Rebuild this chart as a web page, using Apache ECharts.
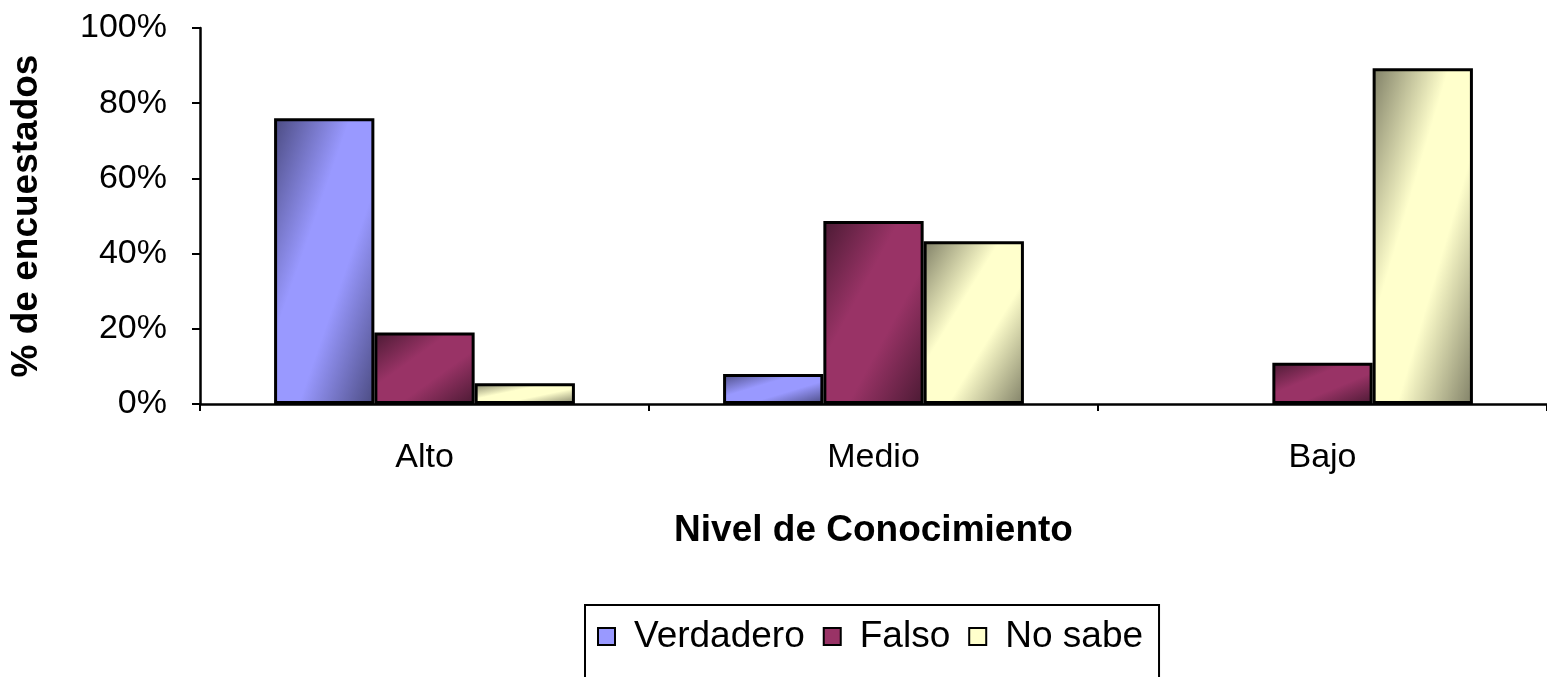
<!DOCTYPE html>
<html>
<head>
<meta charset="utf-8">
<script src="https://cdn.jsdelivr.net/npm/echarts@6/dist/echarts.min.js"></script>
<style>
  html, body { margin: 0; padding: 0; background: #fff; }
  #chart { width: 1547px; height: 677px; }
</style>
</head>
<body>
<div id="chart"></div>
<script>
const categories = ['Alto', 'Medio', 'Bajo']
const verdadero = [76, 8, 0]
const falso = [19, 48.7, 11]
const noSabe = [5.5, 43.3, 89.3]

// light / dark pairs for the shaded bars
const shades = {
  'Verdadero': ['#9999ff', '#4a4a80'],
  'Falso': ['#993366', '#4a1a33'],
  'No sabe': ['#ffffcc', '#7f7f66']
}

const plotH = 376
const barW = 100

// diagonal shading: light band runs from top-right to bottom-left corner
function shade(name, v) {
  const [light, dark] = shades[name]
  const h = Math.max(v / 100 * plotH, 1)
  const d = h * h + barW * barW
  return new echarts.graphic.LinearGradient(0, 0, 2 * h * h / d, 2 * barW * barW / d, [
    { offset: 0, color: dark },
    { offset: 0.38, color: light },
    { offset: 0.62, color: light },
    { offset: 1, color: dark }
  ])
}

function barSeries(name, data) {
  return {
    name: name,
    type: 'bar',
    data: data.map(v => ({
      value: v,
      itemStyle: { color: shade(name, v), borderWidth: v > 0 ? 3 : 0 }
    })),
    barGap: '0%',
    barCategoryGap: '33%',
    itemStyle: { borderColor: '#000', borderWidth: 3 },
    animation: false
  }
}

const chart = echarts.init(document.getElementById('chart'))

chart.setOption({
  textStyle: { fontFamily: 'Liberation Sans, Arial, sans-serif', color: '#000' },
  grid: { left: 200, right: 0, top: 28, bottom: 273, containLabel: false, outerBoundsMode: 'none' },
  legend: {
    left: 585,
    top: 605,
    padding: [13, 16, 40, 12],
    borderColor: '#000',
    borderWidth: 2,
    icon: 'rect',
    itemWidth: 17,
    itemHeight: 17,
    itemGap: 18,
    textStyle: { fontSize: 37, color: '#000', padding: [0, 0, 0, 14] },
    data: [
      { name: 'Verdadero', itemStyle: { color: shades['Verdadero'][0], borderColor: '#000', borderWidth: 2 } },
      { name: 'Falso', itemStyle: { color: shades['Falso'][0], borderColor: '#000', borderWidth: 2 } },
      { name: 'No sabe', itemStyle: { color: shades['No sabe'][0], borderColor: '#000', borderWidth: 2 } }
    ]
  },
  xAxis: {
    type: 'category',
    data: categories,
    name: 'Nivel de Conocimiento',
    nameLocation: 'middle',
    nameGap: 108,
    nameTextStyle: { fontSize: 37, fontWeight: 'bold', color: '#000' },
    axisLine: { lineStyle: { color: '#000', width: 2.5 } },
    axisTick: { show: true, length: 7, lineStyle: { color: '#000', width: 2 } },
    axisLabel: { fontSize: 34, color: '#000', margin: 37 }
  },
  yAxis: {
    type: 'value',
    min: 0,
    max: 100,
    interval: 20,
    name: '% de encuestados',
    nameLocation: 'middle',
    nameRotate: 90,
    nameGap: 155,
    nameTextStyle: { fontSize: 37, fontWeight: 'bold', color: '#000' },
    splitLine: { show: false },
    axisLine: { show: true, lineStyle: { color: '#000', width: 2.5 } },
    axisTick: { show: true, length: 8, lineStyle: { color: '#000', width: 2 } },
    axisLabel: { fontSize: 34, color: '#000', margin: 33, formatter: '{value}%' }
  },
  series: [
    barSeries('Verdadero', verdadero),
    barSeries('Falso', falso),
    barSeries('No sabe', noSabe)
  ]
})
</script>
</body>
</html>
